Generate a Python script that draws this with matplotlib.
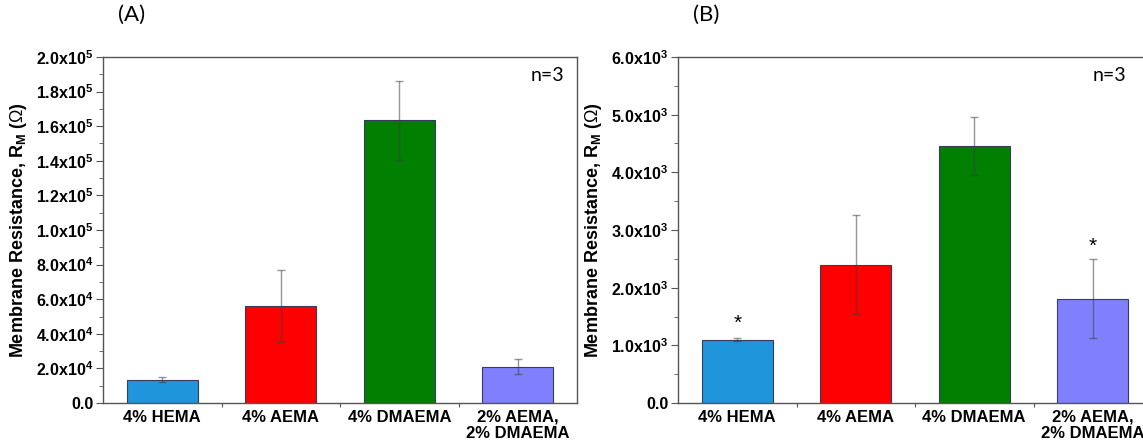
import matplotlib

matplotlib.use("Agg")
import matplotlib.pyplot as plt
from matplotlib.ticker import FixedLocator, FuncFormatter

categories = ["4% HEMA", "4% AEMA", "4% DMAEMA", "2% AEMA,\n2% DMAEMA"]
colors = ["#1f96dc", "#ff0000", "#007f00", "#8080ff"]

# panel A
a_values = [13500, 56000, 163500, 21000]
a_errors = [1500, 21000, 22800, 4500]
a_ticks = [0, 2e4, 4e4, 6e4, 8e4, 1e5, 1.2e5, 1.4e5, 1.6e5, 1.8e5, 2e5]

# panel B
b_values = [1100, 2400, 4460, 1810]
b_errors = [20, 860, 500, 690]
b_ticks = [0, 1e3, 2e3, 3e3, 4e3, 5e3, 6e3]
b_stars = [1380, None, None, 2720]

plt.rcParams["font.family"] = ["Liberation Sans", "DejaVu Sans"]
plt.rcParams["mathtext.fontset"] = "custom"
plt.rcParams["mathtext.rm"] = "Liberation Sans"
plt.rcParams["mathtext.bf"] = "Liberation Sans:bold"
plt.rcParams["mathtext.it"] = "Liberation Sans:italic"

W, H = 1143, 444
fig = plt.figure(figsize=(W / 100, H / 100), dpi=100)


def sci(v, pos):
    if v == 0:
        return "0.0"
    exp = len(str(int(v))) - 1
    mant = v / 10 ** exp
    return f"{mant:.1f}x10$^{{\\mathbf{{{exp}}}}}$"


def panel(left, values, errors, ticks, label, n_right, stars=None):
    ax = fig.add_axes([left / W, 41 / H, 474 / W, 346 / H])
    x = list(range(1, len(categories) + 1))
    ax.bar(x, values, width=0.6, color=colors, edgecolor="#3a3a5a",
           linewidth=0.8, zorder=2)
    ax.errorbar(x, values, yerr=errors, fmt="none",
                ecolor=(0.25, 0.25, 0.25, 0.55), elinewidth=1.0,
                capsize=3, capthick=1.0, zorder=3)
    ax.set_xlim(0.5, 4.5)
    ax.set_ylim(0, ticks[-1])
    ax.yaxis.set_major_locator(FixedLocator(ticks))
    step = ticks[1] - ticks[0]
    ax.yaxis.set_minor_locator(FixedLocator([t + step / 2 for t in ticks[:-1]]))
    ax.yaxis.set_major_formatter(FuncFormatter(sci))
    ax.set_xticks([1.5, 2.5, 3.5])
    ax.set_xticklabels([])
    ax.set_xticks(x, minor=True)
    ax.set_xticklabels(categories, minor=True, fontsize=12, fontweight="bold",
                       linespacing=1.05)
    ax.tick_params(axis="x", which="minor", length=0, pad=5)
    ax.tick_params(axis="x", which="major", length=3, direction="out",
                   color="#555555")
    ax.tick_params(axis="y", which="major", length=5, direction="out",
                   labelsize=11.5, color="#555555", pad=2)
    ax.tick_params(axis="y", which="minor", length=3, direction="out",
                   color="#555555")
    for lbl in ax.get_yticklabels():
        lbl.set_fontweight("bold")
    for s in ax.spines.values():
        s.set_color("#555555")
        s.set_linewidth(1.0)
    ax.set_ylabel(r"Membrane Resistance, R$_{\mathbf{M}}$ ($\Omega$)",
                  fontsize=13, fontweight="bold", labelpad=5)
    ax.text(n_right / W, 0.85, "n=3", transform=fig.transFigure, ha="right",
            va="top", fontsize=14, family=["Lato", "DejaVu Sans"])
    ax.text(left / W + 0.013, 0.99, label, transform=fig.transFigure,
            ha="left", va="top", fontsize=16, family=["Lato", "DejaVu Sans"])
    if stars:
        for xi, s in zip(x, stars):
            if s is not None:
                ax.text(xi, s, "*", ha="center", va="center", fontsize=15)
    return ax


panel(103, a_values, a_errors, a_ticks, "(A)", 564)
panel(678, b_values, b_errors, b_ticks, "(B)", 1126, b_stars)

fig.savefig("out.png", dpi=100)
